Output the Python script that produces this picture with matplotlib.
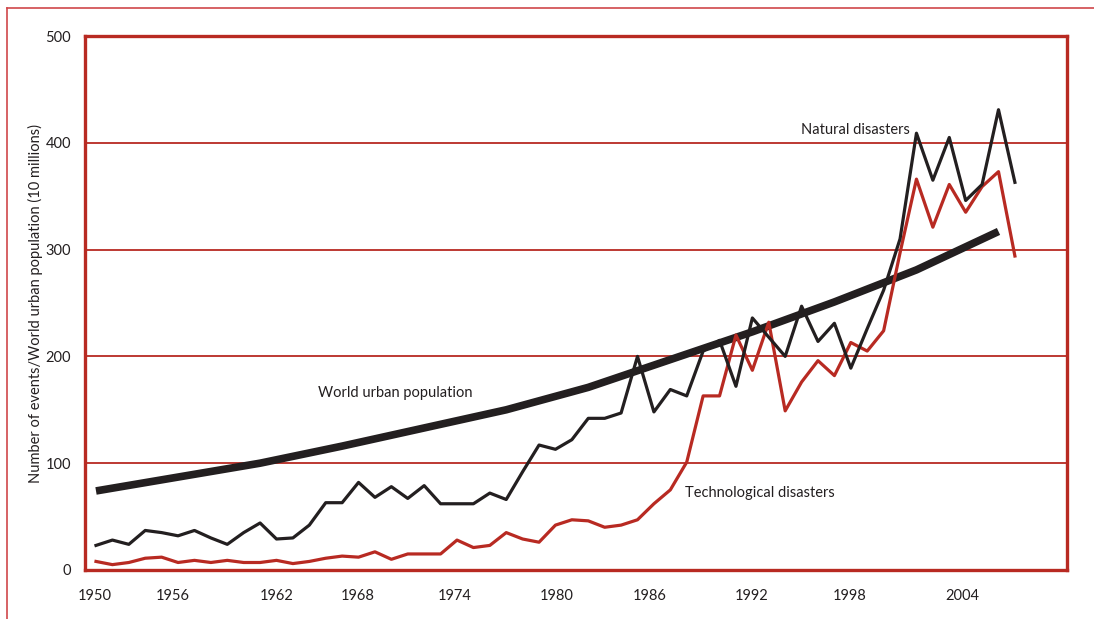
import matplotlib.pyplot as plt
from matplotlib.lines import Line2D

# Data
years = list(range(1950, 2007))

natural = [23, 28, 24, 37, 35, 32, 37, 30, 24, 35,
           44, 29, 30, 42, 63, 63, 82, 68, 78, 67,
           79, 62, 62, 62, 72, 66, 92, 117, 113, 122,
           142, 142, 147, 200, 148, 169, 163, 205, 215, 172,
           236, 218, 200, 247, 214, 231, 189, 226, 262, 310,
           409, 365, 405, 346, 361, 431, 363]

technological = [8, 5, 7, 11, 12, 7, 9, 7, 9, 7,
                 7, 9, 6, 8, 11, 13, 12, 17, 10, 15,
                 15, 15, 28, 21, 23, 35, 29, 26, 42, 47,
                 46, 40, 42, 47, 62, 75, 101, 163, 163, 220,
                 187, 232, 149, 176, 196, 182, 213, 205, 224, 297,
                 366, 321, 361, 335, 359, 373, 294]

urban_years = [1950, 1955, 1960, 1965, 1970, 1975, 1980, 1985, 1990, 1995, 2000, 2005]
urban = [74, 87, 100, 116, 133, 150, 171, 197, 223, 251, 281, 317]

xtick_labels = ['1950', '1956', '1962', '1968', '1974', '1980', '1986', '1992', '1998', '2004']
# label positions as drawn in the original (not evenly spaced)
xtick_pos = [1949.95, 1954.7, 1961.0, 1965.95, 1971.85, 1978.1, 1983.75, 1989.95, 1995.9, 2002.8]

red = '#b82a22'
black = '#231f20'

plt.rcParams['font.family'] = ['Lato', 'DejaVu Sans']

fig = plt.figure(figsize=(10.94, 6.19), dpi=100)
ax = fig.add_axes([0.0777, 0.0792, 0.898, 0.8626])

# outer frame (top and left edges)
fig.add_artist(Line2D([0.0064, 1.0], [0.987, 0.987], color='#d0474a', lw=1.2,
                      transform=fig.transFigure))
fig.add_artist(Line2D([0.0064, 0.0064], [0.0, 0.987], color='#d0474a', lw=1.2,
                      transform=fig.transFigure))

for v in [100, 200, 300, 400]:
    ax.axhline(v, color=red, lw=1.3, zorder=1)

ax.plot(urban_years, urban, color=black, lw=5.5, solid_capstyle='butt', zorder=3)
ax.plot(years, technological, color=red, lw=2.3, zorder=4)
ax.plot(years, natural, color=black, lw=2.3, zorder=5)

ax.text(1999.6, 412, 'Natural disasters', fontsize=10.5, color=black, ha='right', va='center')
ax.text(1963.5, 166, 'World urban population', fontsize=10.5, color=black, ha='left', va='center')
ax.text(1985.9, 72, 'Technological disasters', fontsize=10.5, color=black, ha='left', va='center')

ax.set_xlim(1949.33, 2009.2)
ax.set_ylim(0, 500)
ax.set_yticks([0, 100, 200, 300, 400, 500])
ax.set_xticks(xtick_pos)
ax.set_xticklabels(xtick_labels)
ax.tick_params(axis='both', length=0, labelsize=10.5, colors=black)
ax.tick_params(axis='x', pad=14)
ax.tick_params(axis='y', pad=10)
ax.set_ylabel('Number of events/World urban population (10 millions)', fontsize=10.5,
              color=black, labelpad=2)

for s in ax.spines.values():
    s.set_color(red)
    s.set_linewidth(2.4)

fig.savefig('out.png', dpi=100)
